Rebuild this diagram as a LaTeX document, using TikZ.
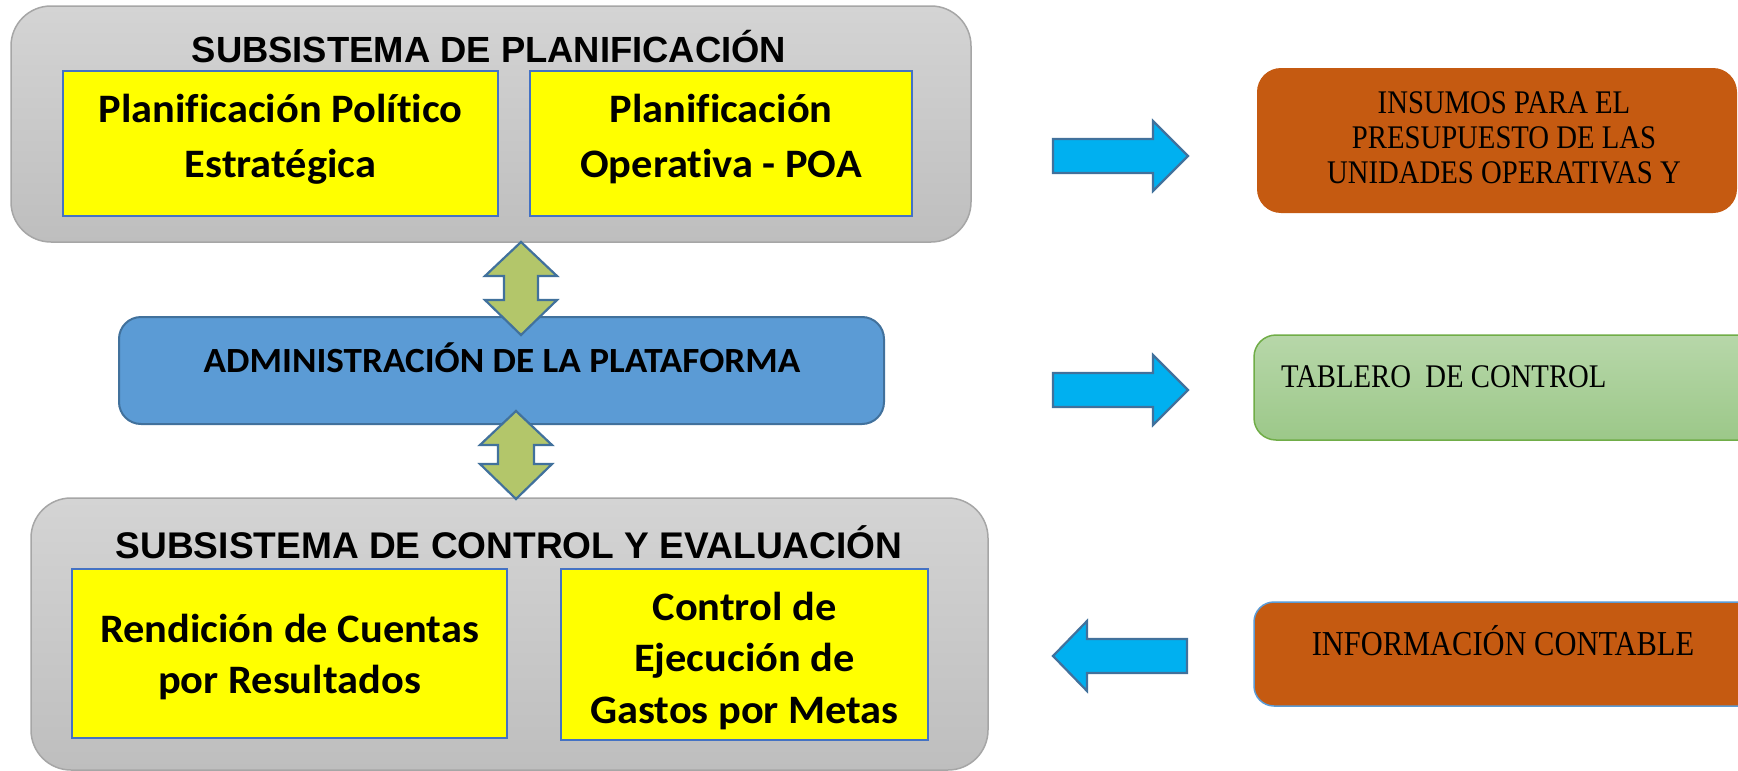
\documentclass[tikz,border=0pt]{standalone}
\usepackage{fontspec}
\setmainfont{Liberation Serif}
\newfontfamily\arialfont{Liberation Sans}
\newfontfamily\calfont[FakeStretch=1.05,Ligatures=NoCommon]{Carlito}
\newfontfamily\timesfont[FakeStretch=0.87]{Liberation Serif}
\definecolor{graytop}{HTML}{D4D4D4}
\definecolor{graybot}{HTML}{BEBEBE}
\definecolor{grayline}{HTML}{A6A6A6}
\definecolor{yel}{HTML}{FFFF00}
\definecolor{yelline}{HTML}{4472C4}
\definecolor{bluebox}{HTML}{5B9BD5}
\definecolor{blueline}{HTML}{41719C}
\definecolor{arrowblue}{HTML}{00B0F0}
\definecolor{olive}{HTML}{B3C66A}
\definecolor{greentop}{HTML}{B7D7A9}
\definecolor{greenbot}{HTML}{9CC889}
\definecolor{greenline}{HTML}{70AD47}
\definecolor{orng}{HTML}{C55A11}
\definecolor{orngline}{HTML}{5B9BD5}
\begin{document}
\begin{tikzpicture}[x=1pt,y=-1pt,
  every node/.style={inner sep=0pt,outer sep=0pt},
  graybox/.style={draw=grayline,line width=1.5pt,top color=graytop,bottom color=graybot,rounded corners=40pt,anchor=north west},
  ybox/.style={draw=yelline,line width=1.2pt,fill=yel,anchor=north west},
  adminbox/.style={draw=blueline,line width=2pt,fill=bluebox,rounded corners=22pt,anchor=north west},
  greenbox/.style={draw=greenline,line width=1.5pt,top color=greentop,bottom color=greenbot,rounded corners=22pt,anchor=north west},
  orangebox/.style={fill=orng,rounded corners=24pt,anchor=north west},
  blockarrow/.style={draw=blueline,line width=2.2pt,fill=arrowblue},
  dblarrow/.style={draw=blueline,line width=2.2pt,fill=olive},
  titletext/.style={anchor=base,font=\arialfont\bfseries\fontsize{36.4}{44}\selectfont},
  ytext/.style={anchor=base,font=\calfont\bfseries\fontsize{40.4}{55}\selectfont},
  ytextb/.style={anchor=base,font=\calfont\bfseries\fontsize{40.4}{51.5}\selectfont},
  stext/.style={anchor=base,font=\timesfont\fontsize{33}{35}\selectfont}
]
\clip (0,0) rectangle (1738,771);
\fill[white] (0,0) rectangle (1738,771);

% subsystem boxes
\node[graybox,minimum width=960pt,minimum height=236pt] (plan) at (11,6) {};
\node[graybox,minimum width=957pt,minimum height=272pt] (ctrl) at (31,498) {};

\node[titletext] (plantitle) at (489,62) {SUBSISTEMA DE PLANIFICACIÓN};
\node[titletext,font=\arialfont\bfseries\fontsize{37.1}{44}\selectfont] (ctrltitle) at (509,558) {SUBSISTEMA DE CONTROL Y EVALUACIÓN};

% yellow boxes
\node[ybox,minimum width=435pt,minimum height=145pt] (ppe) at (63,71) {};
\node[ybox,minimum width=382pt,minimum height=145pt] (poa) at (530,71) {};
\node[ybox,minimum width=435pt,minimum height=169pt] (rcr) at (72,569) {};
\node[ybox,minimum width=367pt,minimum height=171pt] (ceg) at (561,569) {};

\node[ytext] (ppet) at (280.5,122) {\begin{tabular}[t]{@{}c@{}}Planificación Político\\Estratégica\end{tabular}};
\node[ytext] (poat) at (721,122) {\begin{tabular}[t]{@{}c@{}}Planificación\\Operativa - POA\end{tabular}};
\node[ytextb] (rcrt) at (289.5,642) {\begin{tabular}[t]{@{}c@{}}Rendición de Cuentas\\por Resultados\end{tabular}};
\node[ytextb] (cegt) at (744.5,620) {\begin{tabular}[t]{@{}c@{}}Control de\\Ejecución de\\Gastos por Metas\end{tabular}};

% administration
\node[adminbox,minimum width=765pt,minimum height=107pt] (admin) at (119,317) {};
\node[anchor=base,font=\calfont\bfseries\fontsize{35.4}{40}\selectfont] (admint) at (502,372) {ADMINISTRACIÓN DE LA PLATAFORMA};

% right boxes
\node[orangebox,minimum width=480pt,minimum height=145pt] (insumos) at (1257,68) {};
\node[stext] (insumost) at (1504,113) {\begin{tabular}[t]{@{}c@{}}INSUMOS PARA EL\\PRESUPUESTO DE LAS\\UNIDADES OPERATIVAS Y\end{tabular}};

\node[greenbox,minimum width=540pt,minimum height=105pt] (tablero) at (1254,335) {};
\node[stext,anchor=base west] (tablerot) at (1281,387) {TABLERO\ \ DE CONTROL};

\node[orangebox,draw=orngline,line width=1.5pt,rounded corners=20pt,minimum width=540pt,minimum height=104pt] (contable) at (1254,602) {};
\node[stext,font=\timesfont\fontsize{35}{40}\selectfont] (contablet) at (1503,655) {INFORMACIÓN CONTABLE};

% block arrows
\draw[blockarrow] (1053,139) -- (1153,139) -- (1153,121) -- (1188,156) -- (1153,191) -- (1153,173) -- (1053,173) -- cycle;
\draw[blockarrow] (1053,373) -- (1153,373) -- (1153,355) -- (1188,390) -- (1153,425) -- (1153,407) -- (1053,407) -- cycle;
\draw[blockarrow] (1187,639) -- (1087,639) -- (1087,621) -- (1053,656) -- (1087,691) -- (1087,673) -- (1187,673) -- cycle;

% double arrows
\draw[dblarrow] (521,242) -- (557,276) -- (538,276) -- (538,300) -- (557,300) -- (521,335) -- (485,300) -- (504,300) -- (504,276) -- (485,276) -- cycle;
\draw[dblarrow] (516,411) -- (552,445) -- (534,445) -- (534,464) -- (552,464) -- (516,499) -- (480,464) -- (498,464) -- (498,445) -- (480,445) -- cycle;
\end{tikzpicture}
\end{document}
